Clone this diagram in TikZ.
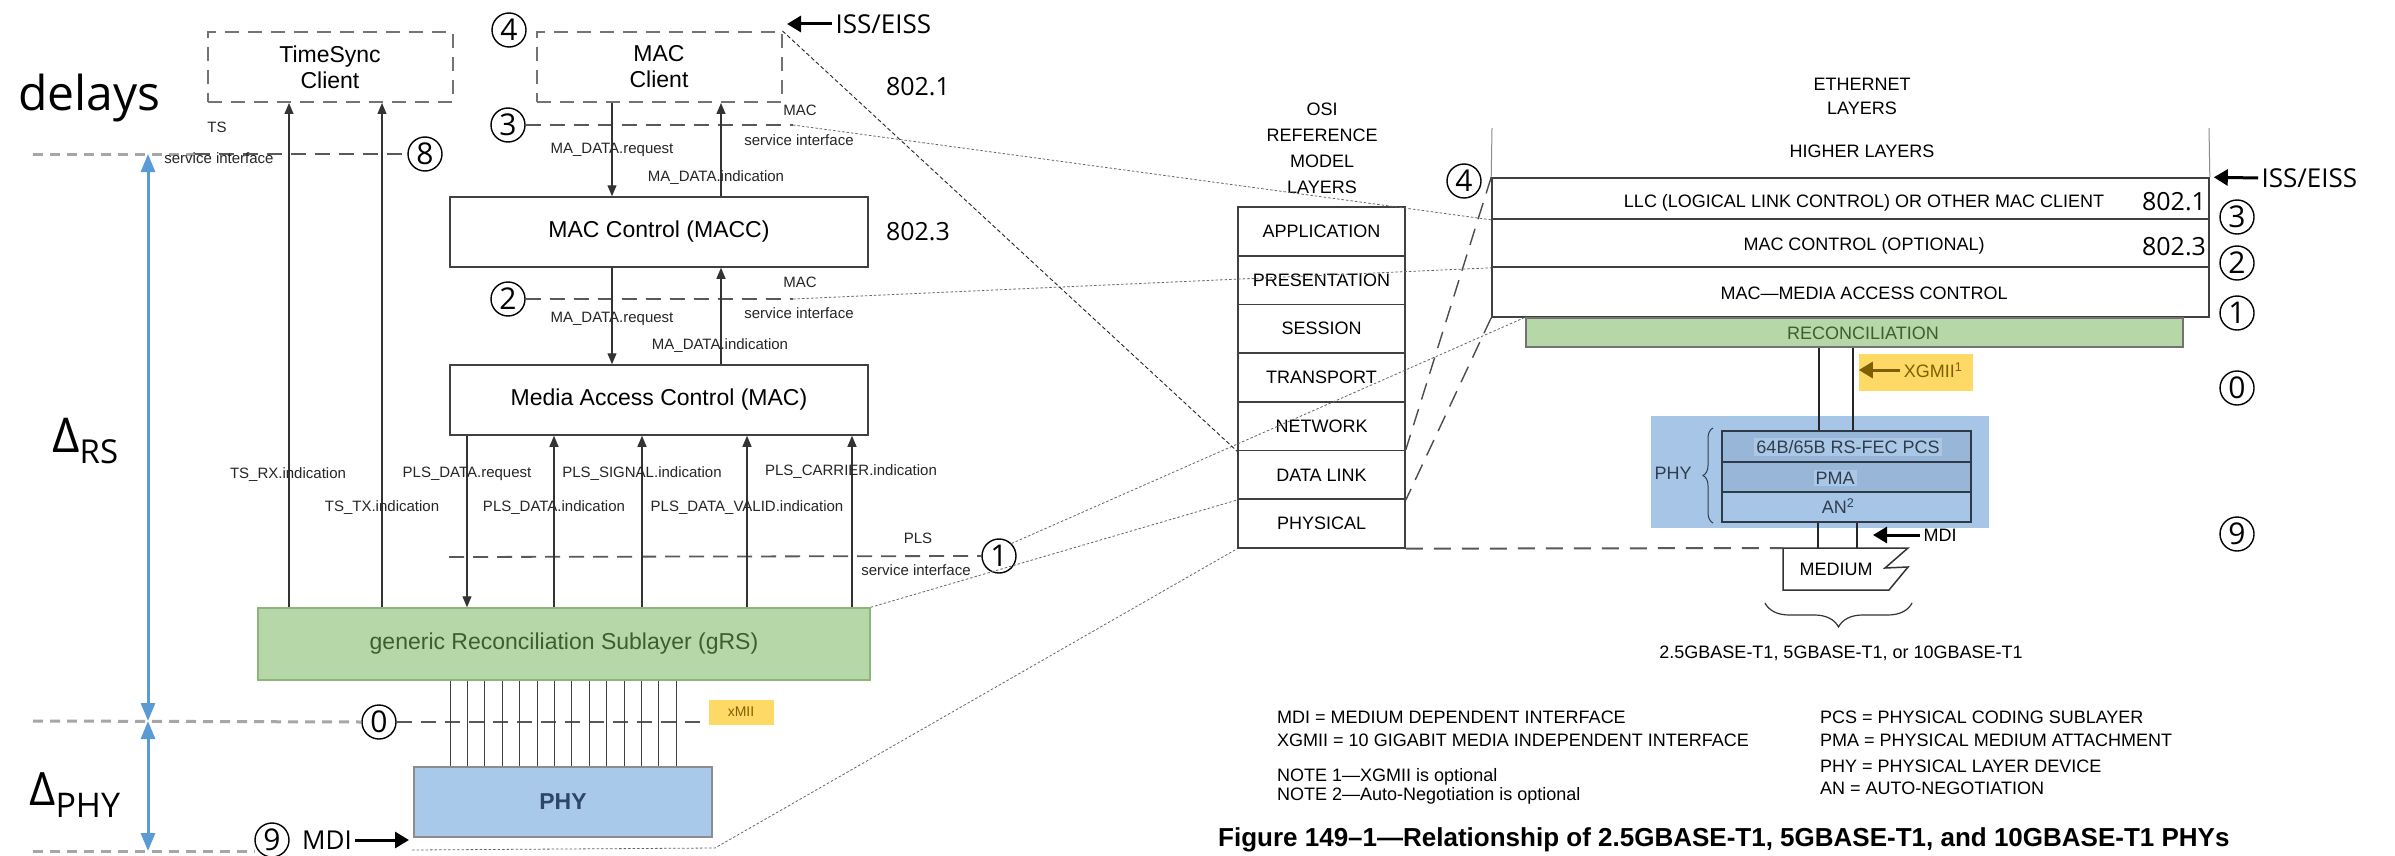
\documentclass[tikz,border=0pt]{standalone}
\usepackage{fontspec}
\setmainfont{Liberation Sans}
\newfontfamily\osans{Open Sans}
\usetikzlibrary{arrows.meta,decorations.pathreplacing}
\definecolor{grsfill}{HTML}{B6D7A8}
\definecolor{grsline}{HTML}{8DB57A}
\definecolor{grstext}{HTML}{3E5E2E}
\definecolor{phyfill}{HTML}{A9C9EA}
\definecolor{phytext}{HTML}{2E4666}
\definecolor{phybg}{HTML}{A7C5E6}
\definecolor{phyrow}{HTML}{97B6D8}
\definecolor{phyhl}{HTML}{AAC7E6}
\definecolor{phydark}{HTML}{2F3D4F}
\definecolor{stackline}{HTML}{2E3A48}
\definecolor{xgold}{HTML}{FFD966}
\definecolor{xtext}{HTML}{7F6000}
\definecolor{delayblue}{HTML}{5B9BD5}
\definecolor{overlaygray}{HTML}{A6A6A6}
\definecolor{ifgray}{HTML}{595959}
\definecolor{boxline}{HTML}{404040}

\begin{document}
\begin{tikzpicture}[x=1pt,y=-1pt,
  f15/.style={font=\fontsize{15}{18}\selectfont},
  f18/.style={font=\fontsize{18}{22}\selectfont},
  f23/.style={font=\fontsize{23}{26}\selectfont},
  os25/.style={font=\osans\fontsize{25}{30}\selectfont},
  os26/.style={font=\osans\fontsize{26}{30}\selectfont},
  dbox/.style={draw=black!55, line width=2pt, dash pattern=on 14pt off 9pt,
    minimum width=245pt, minimum height=70pt, align=center, f23},
  sbox/.style={draw=boxline, line width=1.5pt, minimum width=418pt, minimum height=70pt, f23},
  lab/.style={f15, text=black!85, inner sep=0pt},
  sig/.style={draw=black!80, line width=1.1pt, -{Triangle[length=11pt,width=9pt]}},
  cnum/.style={circle, draw=black, line width=1.4pt, minimum size=34pt, inner sep=0pt,
    font=\osans\fontsize{30}{30}\selectfont},
  ifdash/.style={draw=ifgray, line width=1.8pt, dash pattern=on 15pt off 9pt},
  ovdash/.style={draw=overlaygray, line width=3pt, dash pattern=on 10pt off 7pt},
  dotl/.style={draw=black!60, line width=0.8pt, dash pattern=on 2.5pt off 2pt},
  finedash/.style={draw=black!85, line width=0.9pt, dash pattern=on 4pt off 2.5pt},
  longdash/.style={draw=black!70, line width=1.4pt, dash pattern=on 17pt off 10pt},
  meddash/.style={draw=black!65, line width=2pt, dash pattern=on 17pt off 11pt},
  bigarr/.style={draw=black, line width=3pt, -{Triangle[length=14pt,width=16pt]}},
  goldarr/.style={draw=xtext, line width=3pt, -{Triangle[length=14pt,width=16pt]}},
  bluearr/.style={draw=delayblue, line width=3pt,
    {Triangle[length=18pt,width=14pt]}-{Triangle[length=18pt,width=14pt]}},
  osirow/.style={draw=boxline, line width=1.6pt, minimum width=167pt, minimum height=48.7pt, f18},
  ethrow/.style={draw=boxline, line width=1.6pt, minimum width=717pt},
  wire/.style={draw=black!85, line width=1.5pt},
]
\useasboundingbox (0,0) rectangle (2395,856);
\fill[white] (0,0) rectangle (2395,856);

% ================= left: layered model with delays =================
\node[anchor=base west, inner sep=0pt, font=\osans\fontsize{48}{54}\selectfont] (delays) at (18,111) {delays};
\node[anchor=base west, inner sep=0pt] (drs) at (52,452)
  {\osans\fontsize{48}{48}\selectfont Δ\raisebox{-11pt}{\fontsize{33}{33}\selectfont RS}};
\node[anchor=base west, inner sep=0pt] (dphy) at (29,805)
  {\osans\fontsize{46}{46}\selectfont Δ\raisebox{-12pt}{\fontsize{34}{34}\selectfont PHY}};

\node[dbox] (ts) at (330,67) {TimeSync\\Client};
\node[dbox] (mcl) at (659,67) {MAC\\Client};
\node[sbox] (macc) at (659,232) {MAC Control (MACC)};
\node[sbox] (mac) at (659,400) {Media Access Control (MAC)};
\node[draw=grsline, fill=grsfill, line width=1.5pt, minimum width=612pt, minimum height=72pt,
  f23, text=grstext] (grs) at (564,644) {generic Reconciliation Sublayer (gRS)};
\node[draw=black!45, fill=phyfill, line width=1.5pt, minimum width=298pt, minimum height=70pt,
  font=\bfseries\fontsize{23}{26}\selectfont, text=phytext] (phy) at (563,802) {PHY};

\node[fill=xgold, minimum width=65pt, minimum height=25pt, inner sep=0pt,
  font=\fontsize{14}{16}\selectfont, text=xtext] (xmii) at (741,712) {xMII};

% interface markers
\node[cnum] (c4) at (509,30) {4};
\node[cnum] (c3) at (508,125) {3};
\node[cnum] (c8) at (425,154) {8};
\node[cnum] (c2) at (508,299) {2};
\node[cnum] (c1) at (999,556) {1};
\node[cnum] (c0) at (379,722) {0};
\node[cnum] (c9) at (272,840) {9};

\coordinate (s3e) at (793,125);
\coordinate (s2e) at (793,299);
\coordinate (plsw) at (449,557);
\coordinate (tsw) at (33,154);
\coordinate (tsm) at (195,154);
\coordinate (zw) at (33,721);
\coordinate (nw) at (33,851);
\coordinate (ne) at (255,851);

% service interfaces
\draw[ifdash] (c3.east) -- (s3e);
\draw[ifdash] (c2.east) -- (s2e);
\draw[ifdash] (plsw) -- (c1.west);
\draw[ovdash] (tsw) -- (tsm);
\draw[ifdash] (tsm) -- (c8.west);
\draw[ovdash] (zw) -- (c0.west);
\draw[ifdash] (c0.east) -- (c0.east -| xmii.west);
\draw[ovdash] (nw) -- (ne);

% primitives
\foreach \n/\x in {tsrx/289, tstx/382, pdr/467, pdi/554, psi/642, pdv/747, pci/852, mreq/612, mind/721}
  \coordinate (\n) at (\x,0);
\draw[sig] (grs.north -| tsrx) -- (ts.south -| tsrx);
\draw[sig] (grs.north -| tstx) -- (ts.south -| tstx);
\draw[sig] (mac.south -| pdr) -- (grs.north -| pdr);
\draw[sig] (grs.north -| pdi) -- (mac.south -| pdi);
\draw[sig] (grs.north -| psi) -- (mac.south -| psi);
\draw[sig] (grs.north -| pdv) -- (mac.south -| pdv);
\draw[sig] (grs.north -| pci) -- (mac.south -| pci);
\draw[sig] (mcl.south -| mreq) -- (macc.north -| mreq);
\draw[sig] (macc.north -| mind) -- (mcl.south -| mind);
\draw[sig] (macc.south -| mreq) -- (mac.north -| mreq);
\draw[sig] (mac.north -| mind) -- (macc.south -| mind);

% xMII wires
\foreach \i in {0,...,13} {
  \coordinate (w\i) at ({450+17.4*\i},0);
  \draw[draw=black!75, line width=1pt] (grs.south -| w\i) -- (phy.north -| w\i);
}

% labels
\node[lab] (l1) at (217,127) {TS};
\node[lab] (l2) at (219,158) {service interface};
\node[lab] (l3) at (612,150) {MA\_DATA.request};
\node[lab] (l4) at (716,178) {MA\_DATA.indication};
\node[lab] (l5) at (800,110) {MAC};
\node[lab] (l6) at (799,140) {service interface};
\node[lab] (l7) at (612,319) {MA\_DATA.request};
\node[lab] (l8) at (720,346) {MA\_DATA.indication};
\node[lab] (l9) at (800,282) {MAC};
\node[lab] (l10) at (799,313) {service interface};
\node[lab] (l11) at (288,475) {TS\_RX.indication};
\node[lab] (l12) at (382,508) {TS\_TX.indication};
\node[lab] (l13) at (467,474) {PLS\_DATA.request};
\node[lab] (l14) at (554,508) {PLS\_DATA.indication};
\node[lab] (l15) at (642,474) {PLS\_SIGNAL.indication};
\node[lab] (l16) at (747,508) {PLS\_DATA\_VALID.indication};
\node[lab] (l17) at (851,472) {PLS\_CARRIER.indication};
\node[lab] (l18) at (918,538) {PLS};
\node[lab] (l19) at (916,570) {service interface};

\node[os25] (n8021) at (918,87) {802.1};
\node[os25] (n8023) at (918,232) {802.3};

% ISS/EISS and MDI pointers
\node[os26, anchor=west] (issl) at (832,24) {ISS/EISS};
\coordinate (issltip) at (787,24);
\draw[bigarr] (issl.west) -- (issltip);
\node[os26] (mdil) at (327,840) {MDI};
\coordinate (mdiltip) at (409,840);
\draw[bigarr] (mdil.east) -- (mdiltip);

% delay arrows
\coordinate (d8) at (148,154);
\coordinate (d0) at (148,721);
\coordinate (d9) at (148,851);
\draw[bluearr] (d8) -- (d0);
\draw[bluearr] (d0) -- (d9);

% ================= OSI reference model =================
\node[align=center, font=\fontsize{18}{26}\selectfont] (osihead) at (1322,148) {OSI\\REFERENCE\\MODEL\\LAYERS};
\foreach \i/\t in {1/APPLICATION,2/PRESENTATION,3/SESSION,4/TRANSPORT,5/NETWORK,6/DATA LINK,7/PHYSICAL}
  \node[osirow] (osi\i) at (1321.5,{207+48.7*(\i-0.5)}) {\t};

% ================= Ethernet layers =================
\node[align=center, font=\fontsize{18}{24}\selectfont] (ethhead) at (1862,96) {ETHERNET\\LAYERS};
\node[ethrow, minimum height=41pt] (ellc) at (1850.5,198.5) {};
\node[ethrow, minimum height=48pt] (emctl) at (1850.5,243) {};
\node[ethrow, minimum height=50pt] (emac) at (1850.5,292) {};
\coordinate (hll) at (1492,128);
\coordinate (hlr) at (2209,128);
\draw[draw=black!45, line width=1pt] (hll) -- (ellc.north west);
\draw[draw=black!45, line width=1pt] (hlr) -- (ellc.north east);
\node[f18] (thl) at (1862,151) {HIGHER LAYERS};
\node[f18] (tllc) at (1864,203) {LLC (LOGICAL LINK CONTROL) OR OTHER MAC CLIENT};
\node[f18] (tmctl) at (1864,246) {MAC CONTROL (OPTIONAL)};
\node[f18] (tmac) at (1864,293) {MAC—MEDIA ACCESS CONTROL};
\node[os25] (r8021) at (2174,202) {802.1};
\node[os25] (r8023) at (2174,247) {802.3};

\node[draw=black!55, fill=grsfill, line width=1.5pt, minimum width=657pt, minimum height=29pt] (erec) at (1854.5,332.5) {};
\node[f18, text=grstext] (trec) at (1863,333) {RECONCILIATION};

% PHY sublayers
\node[fill=phybg, minimum width=338pt, minimum height=112pt] (phybg) at (1820,472) {};
\node[draw=stackline, fill=phyrow, line width=1.5pt, minimum width=249pt, minimum height=31pt] (pcs) at (1846.5,446.5) {};
\node[draw=stackline, fill=phyrow, line width=1.5pt, minimum width=249pt, minimum height=30pt] (pma) at (1846.5,477) {};
\node[draw=stackline, fill=phybg, line width=1.5pt, minimum width=249pt, minimum height=30pt] (an) at (1846.5,507) {};
\node[f18, fill=phyhl, text=phydark, inner sep=2pt] (tpcs) at (1848,447) {64B/65B RS-FEC PCS};
\node[f18, fill=phyhl, text=phydark, inner sep=2pt] (tpma) at (1835,478) {PMA};
\node[f18, text=phydark] (tan) at (1838,506) {AN\textsuperscript{2}};
\node[f18, text=phydark] (tphy) at (1673,473) {PHY};
\draw[draw=phydark, line width=1pt, decorate, decoration={brace, amplitude=10pt}] (1713,523) -- (1713,428);

% XGMII
\node[fill=xgold, minimum width=114pt, minimum height=37pt] (xg) at (1916,372.5) {};
\node[f18, text=xtext] (txg) at (1933,370) {XGMII\textsuperscript{1}};
\draw[goldarr] (txg.west) -- (txg.west -| xg.west);
\coordinate (xa) at (1819,0);
\coordinate (xb) at (1853,0);
\draw[wire] (erec.south -| xa) -- (pcs.north -| xa);
\draw[wire] (erec.south -| xb) -- (pcs.north -| xb);

% medium and MDI
\coordinate (medtl) at (1783,548);
\draw[draw=black!80, line width=1.5pt, fill=white] (medtl) -- (1908,548) -- (1885,568) -- (1908,567) -- (1889,590) -- (1783,590) -- cycle;
\node[f18] (tmed) at (1836,569) {MEDIUM};
\coordinate (ma) at (1818,0);
\coordinate (mb) at (1857,0);
\draw[wire] (an.south -| ma) -- (ma |- medtl);
\draw[wire] (an.south -| mb) -- (mb |- medtl);
\node[f18] (mdir) at (1940,535) {MDI};
\coordinate (mdirtip) at (1873,535);
\draw[bigarr] (mdir.west) -- (mdirtip);
\draw[draw=black!80, line width=1.2pt, decorate, decoration={brace, amplitude=24pt}] (1912,603) -- (1765,603);
\node[f18] (tvar) at (1841,653) {2.5GBASE-T1, 5GBASE-T1, or 10GBASE-T1};

% Ethernet interface markers
\node[cnum] (c4r) at (1464,181) {4};
\node[cnum] (c3r) at (2237,217) {3};
\node[cnum] (c2r) at (2237,263) {2};
\node[cnum] (c1r) at (2237,313) {1};
\node[cnum] (c0r) at (2237,388) {0};
\node[cnum] (c9r) at (2237,534) {9};
\node[os26, anchor=west] (issr) at (2258,178) {ISS/EISS};
\draw[bigarr, shorten >=4pt] (issr.west) -- (ellc.north east);

% ================= cross references =================
\coordinate (mdidot) at (412,850);
\coordinate (mdibend) at (715,848);
\draw[dotl] (s3e) -- (ellc.south west);
\draw[dotl] (s2e) -- (emctl.south west);
\draw[dotl] (c1.north east) -- (erec.north west);
\draw[dotl] (grs.north east) -- (osi6.south west);
\draw[dotl] (mdidot) -- (mdibend) -- (osi7.south west);
\draw[finedash] (mcl.north east) -- (osi5.south west);
\draw[longdash] (ellc.north west) -- (osi6.north east);
\draw[longdash] (emac.south west) -- (osi6.south east);
\draw[meddash] (osi7.south east) -- (medtl);

% ================= legend =================
\begin{scope}[every node/.style={f18, anchor=west, inner sep=0pt}]
\node (lg1) at (1277,717) {MDI = MEDIUM DEPENDENT INTERFACE};
\node (lg2) at (1277,740) {XGMII = 10 GIGABIT MEDIA INDEPENDENT INTERFACE};
\node (lg3) at (1277,777) {NOTE 1—XGMII is optional};
\node (lg4) at (1277,796) {NOTE 2—Auto-Negotiation is optional};
\node (lg5) at (1820,717) {PCS = PHYSICAL CODING SUBLAYER};
\node (lg6) at (1820,740) {PMA = PHYSICAL MEDIUM ATTACHMENT};
\node (lg7) at (1820,766) {PHY = PHYSICAL LAYER DEVICE};
\node (lg8) at (1820,788) {AN = AUTO-NEGOTIATION};
\end{scope}
\node[anchor=west, inner sep=0pt, font=\bfseries\fontsize{26}{30}\selectfont] (cap) at (1218,840)
  {Figure 149–1—Relationship of 2.5GBASE-T1, 5GBASE-T1, and 10GBASE-T1 PHYs};
\end{tikzpicture}
\end{document}
